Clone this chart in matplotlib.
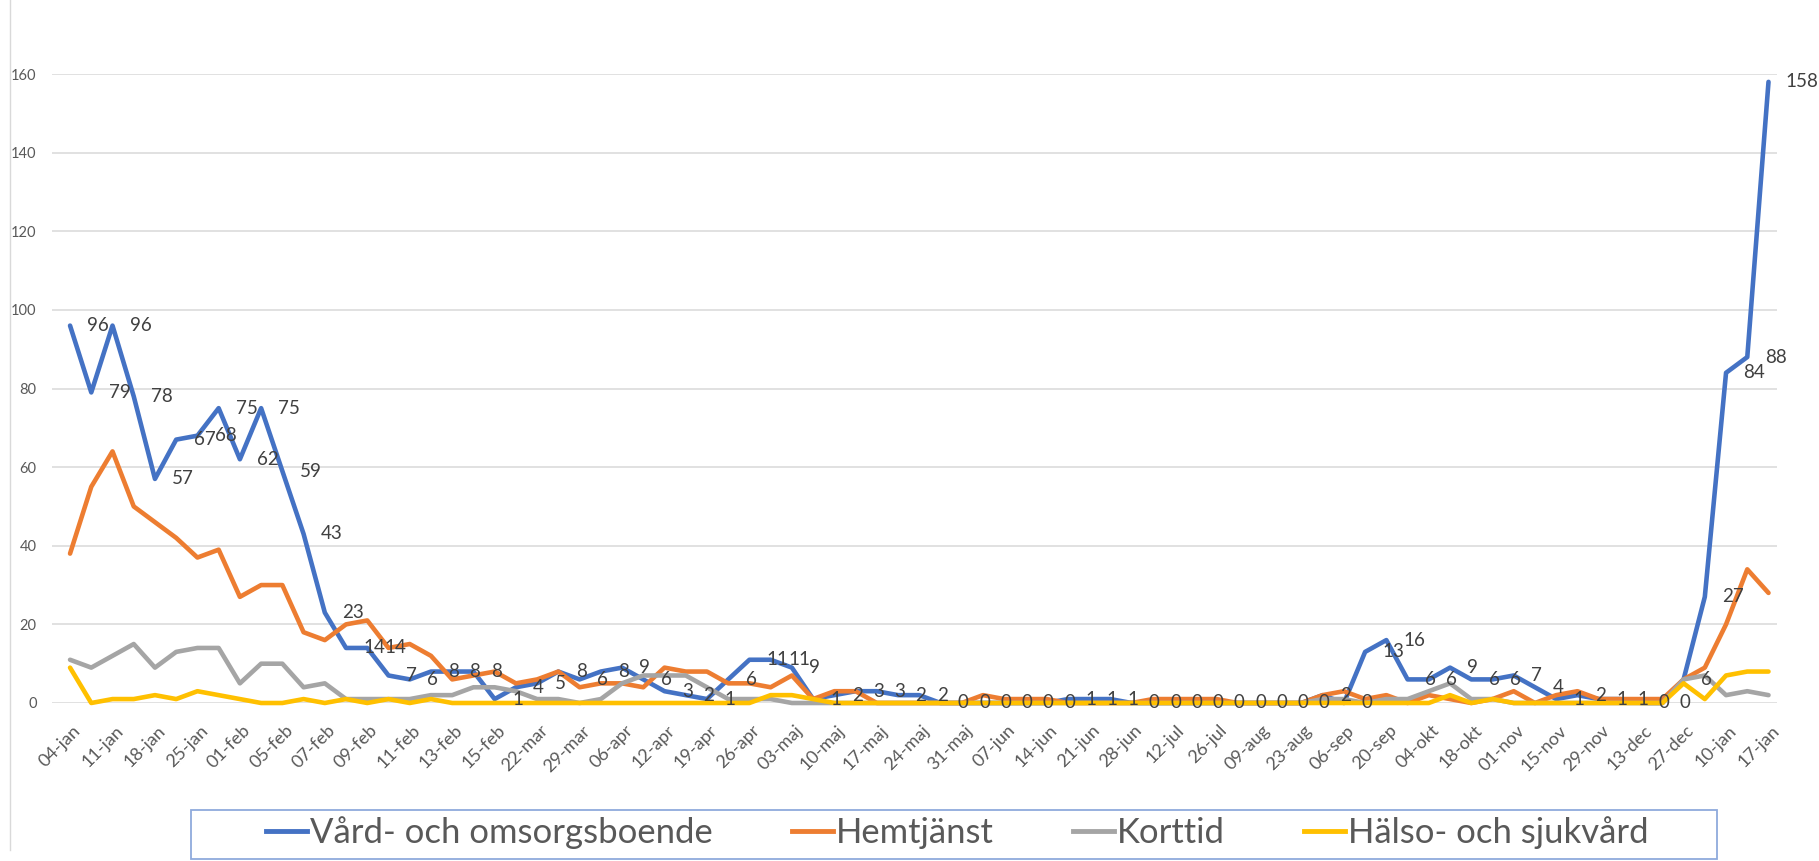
import matplotlib
matplotlib.use('Agg')
import matplotlib.pyplot as plt
from matplotlib.patches import Rectangle
from matplotlib.lines import Line2D
import matplotlib.transforms as mtransforms
import numpy as np

# ---------------- data ----------------
tick_labels = ['04-jan', '11-jan', '18-jan', '25-jan', '01-feb', '05-feb', '07-feb', '09-feb',
               '11-feb', '13-feb', '15-feb', '22-mar', '29-mar', '06-apr', '12-apr', '19-apr',
               '26-apr', '03-maj', '10-maj', '17-maj', '24-maj', '31-maj', '07-jun', '14-jun',
               '21-jun', '28-jun', '12-jul', '26-jul', '09-aug', '23-aug', '06-sep', '20-sep',
               '04-okt', '18-okt', '01-nov', '15-nov', '29-nov', '13-dec', '27-dec', '10-jan',
               '17-jan']

vard = [96, 79, 96, 78, 57, 67, 68, 75, 62, 75, 59, 43, 23, 14, 14, 7, 6, 8, 8, 8,
        1, 4, 5, 8, 6, 8, 9, 6, 3, 2, 1, 6, 11, 11, 9, 1, 2, 3, 3, 2,
        2, 0, 0, 0, 0, 0, 0, 1, 1, 1, 0, 0, 0, 0, 0, 0, 0, 0, 0, 2,
        0, 13, 16, 6, 6, 9, 6, 6, 7, 4, 1, 2, 1, 1, 0, 0, 6, 27, 84, 88,
        158]
hem = [38, 55, 64, 50, 46, 42, 37, 39, 27, 30, 30, 18, 16, 20, 21, 14, 15, 12, 6, 7,
       8, 5, 6, 8, 4, 5, 5, 4, 9, 8, 8, 5, 5, 4, 7, 1, 3, 3, 0, 0,
       0, 0, 0, 2, 1, 1, 1, 0, 0, 0, 0, 1, 1, 1, 1, 0, 0, 0, 0, 2,
       3, 1, 2, 0, 2, 1, 0, 1, 3, 0, 2, 3, 1, 1, 1, 1, 6, 9, 20, 34,
       28]
kort = [11, 9, 12, 15, 9, 13, 14, 14, 5, 10, 10, 4, 5, 1, 1, 1, 1, 2, 2, 4,
        4, 3, 1, 1, 0, 1, 5, 7, 7, 7, 4, 1, 1, 1, 0, 0, 0, 0, 0, 0,
        0, 0, 0, 0, 0, 0, 0, 0, 0, 0, 0, 0, 0, 0, 0, 0, 0, 0, 0, 1,
        1, 0, 1, 1, 3, 5, 1, 1, 0, 0, 0, 0, 0, 0, 0, 0, 6, 7, 2, 3,
        2]
halso = [9, 0, 1, 1, 2, 1, 3, 2, 1, 0, 0, 1, 0, 1, 0, 1, 0, 1, 0, 0,
         0, 0, 0, 0, 0, 0, 0, 0, 0, 0, 0, 0, 0, 2, 2, 1, 0, 0, 0, 0,
         0, 0, 0, 0, 0, 0, 0, 0, 0, 0, 0, 0, 0, 0, 0, 0, 0, 0, 0, 0,
         0, 0, 0, 0, 0, 2, 0, 1, 0, 0, 0, 0, 0, 0, 0, 0, 5, 1, 7, 8,
         8]

series_names = ['Vård- och omsorgsboende', 'Hemtjänst', 'Korttid', 'Hälso- och sjukvård']
colors = ['#4472C4', '#ED7D31', '#A5A5A5', '#FFC000']
y_ticks = [0, 20, 40, 60, 80, 100, 120, 140, 160]

# ---------------- figure ----------------
plt.rcParams['font.family'] = ['Lato', 'DejaVu Sans']
W, H, DPI = 1819, 861, 100
fig = plt.figure(figsize=(W / DPI, H / DPI), dpi=DPI)
fig.patch.set_facecolor('white')

ax = fig.add_axes([52 / W, 1 - 703 / H, (1777 - 52) / W, (703 - 74) / H])
x = np.arange(len(vard))

for k, (vals, col) in enumerate(zip([vard, hem, kort, halso], colors)):
    ax.plot(x, vals, color=col, lw=3.3, solid_joinstyle='round', solid_capstyle='round',
            clip_on=False, zorder=3 + k)

for xi, v in zip(x, vard):
    ax.annotate(str(v), (xi, v), xytext=(12.5, 0), textcoords='offset points',
                ha='left', va='center', fontsize=13.5, color='#404040',
                annotation_clip=False, zorder=10)

ax.set_xlim(-0.85, 80.4)
ax.set_ylim(0, 160)
ax.set_yticks(y_ticks)
ax.set_yticklabels([str(t) for t in y_ticks])
ax.grid(axis='y', color='#D9D9D9', lw=1.1)
ax.set_axisbelow(True)
for s in ax.spines.values():
    s.set_visible(False)
ax.tick_params(axis='both', length=0, colors='#595959')
ax.tick_params(axis='y', labelsize=10.5, pad=11)
ax.tick_params(axis='x', labelsize=13, pad=18)

ax.set_xticks(x[::2])
ax.set_xticklabels(tick_labels, rotation=45, ha='right', va='center', rotation_mode='anchor')
offset = mtransforms.ScaledTranslation(0.08, 0, fig.dpi_scale_trans)
for lab in ax.get_xticklabels():
    lab.set_transform(lab.get_transform() + offset)

# left border line of the chart area
fig.add_artist(Line2D([9.5 / W, 9.5 / W], [1 - 850 / H, 1.0], transform=fig.transFigure,
                      color='#D9D9D9', lw=1.0))

# ---------------- legend ----------------
renderer = fig.canvas.get_renderer()
probe = fig.text(0, 0, series_names[0], fontsize=25)
w = probe.get_window_extent(renderer).width
probe.remove()
fs = 25 * 402 / w
fs_px = fs * DPI / 72.0
handles = [Line2D([], [], color=c, lw=3.5) for c in colors]
fig.legend(handles, series_names, loc='center', bbox_to_anchor=(957 / W, 1 - 833 / H),
           ncol=4, frameon=False, fontsize=fs, labelcolor='#595959',
           handlelength=41 / fs_px, handletextpad=3 / fs_px, columnspacing=79 / fs_px,
           borderpad=0.1)
fig.add_artist(Rectangle((191 / W, 1 - 859 / H), (1717 - 191) / W, (859 - 810) / H,
                         transform=fig.transFigure, fill=False, edgecolor='#8FAADC', lw=1.3))

fig.savefig('out.png', dpi=DPI)
